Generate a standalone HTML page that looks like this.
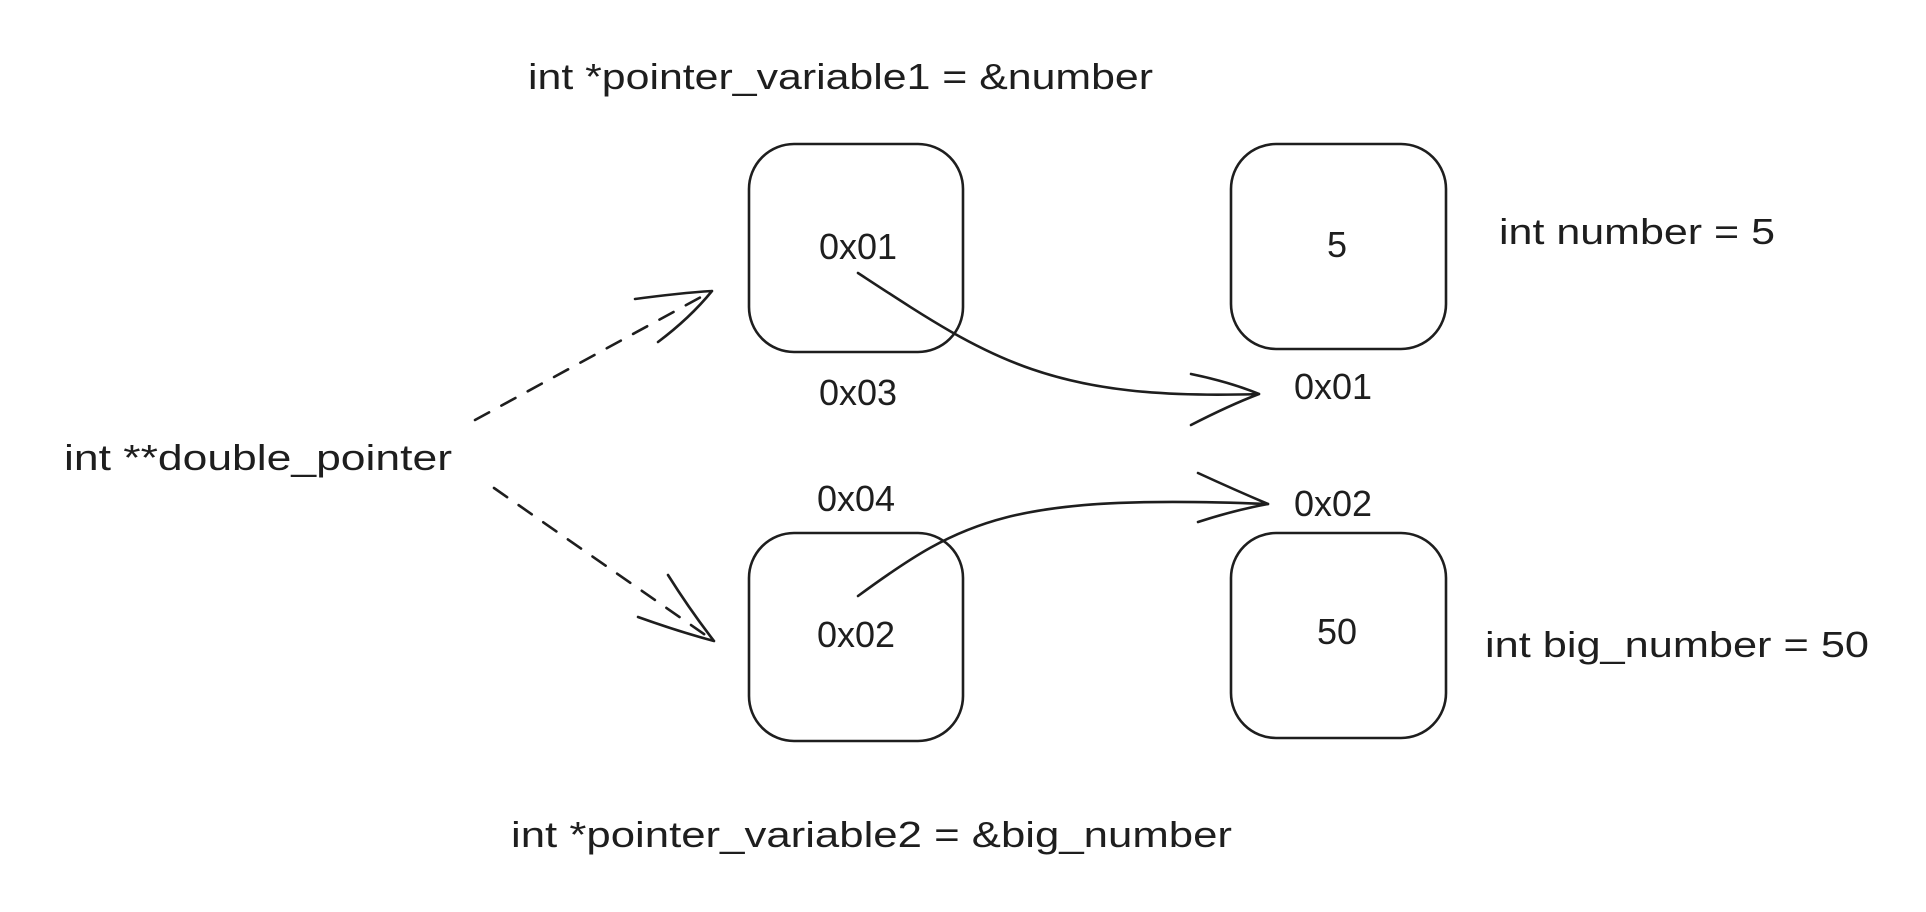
<!DOCTYPE html>
<html><head><meta charset="utf-8"><style>
html,body{margin:0;padding:0;background:#fff;}
svg{display:block}
text{font-family:"Liberation Sans",sans-serif;fill:#1e1e1e;}
</style></head><body>
<svg width="1926" height="912" viewBox="0 0 1926 912" xmlns="http://www.w3.org/2000/svg">
<rect width="1926" height="912" fill="#fff"/>
<g fill="none" stroke="#1e1e1e" stroke-width="2.6" stroke-linecap="round">
<rect x="749" y="144" width="214" height="208" rx="45"/>
<rect x="1231" y="144" width="215" height="205" rx="45"/>
<rect x="749" y="533" width="214" height="208" rx="45"/>
<rect x="1231" y="533" width="215" height="205" rx="45"/>
<path d="M475,420 L712,291" stroke-dasharray="16,14"/>
<path d="M635,299 Q680,293 712,291 M658,342 Q690,318 712,291"/>
<path d="M494,488 L714,641" stroke-dasharray="16,14"/>
<path d="M638,617 Q680,632 714,641 M668,575 Q690,610 714,641"/>
<path d="M858,273 C988,358 1049,401 1259,394"/>
<path d="M1191,374 Q1230,382 1259,394 M1191,425 Q1230,405 1259,394"/>
<path d="M858,596 C963,519 1012,494 1268,504"/>
<path d="M1198,473 Q1235,490 1268,504 M1198,522 Q1235,510 1268,504"/>
</g>
<g font-size="36">
<text x="528" y="89" textLength="625" lengthAdjust="spacingAndGlyphs">int *pointer_variable1 = &amp;number</text>
<text x="858" y="259" text-anchor="middle">0x01</text>
<text x="1337" y="257" text-anchor="middle">5</text>
<text x="1499" y="244" textLength="276" lengthAdjust="spacingAndGlyphs">int number = 5</text>
<text x="858" y="405" text-anchor="middle">0x03</text>
<text x="1333" y="399" text-anchor="middle">0x01</text>
<text x="64" y="470" textLength="388" lengthAdjust="spacingAndGlyphs">int **double_pointer</text>
<text x="856" y="511" text-anchor="middle">0x04</text>
<text x="1333" y="516" text-anchor="middle">0x02</text>
<text x="856" y="647" text-anchor="middle">0x02</text>
<text x="1337" y="644" text-anchor="middle">50</text>
<text x="1485" y="657" textLength="384" lengthAdjust="spacingAndGlyphs">int big_number = 50</text>
<text x="511" y="847" textLength="721" lengthAdjust="spacingAndGlyphs">int *pointer_variable2 = &amp;big_number</text>
</g>
</svg>
</body></html>
